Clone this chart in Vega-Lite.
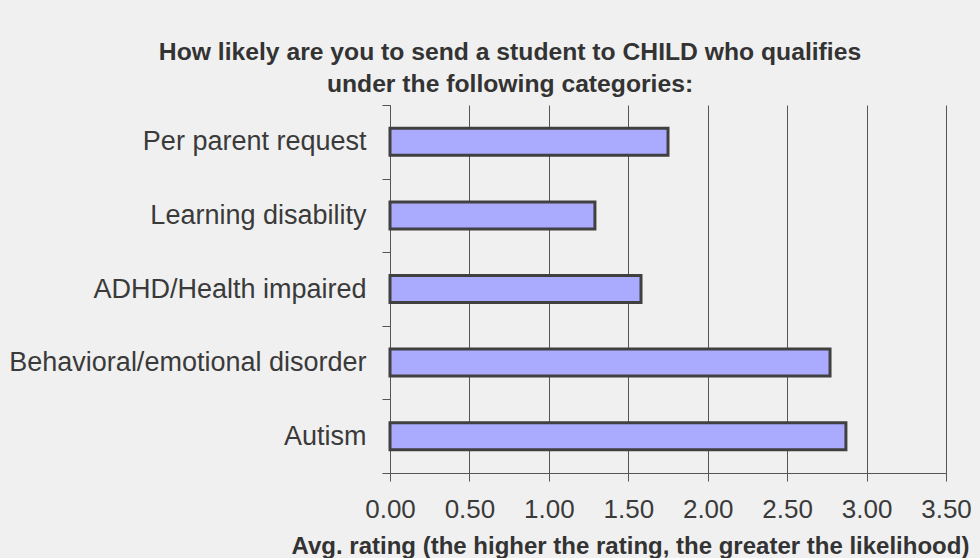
{
  "$schema": "https://vega.github.io/schema/vega-lite/v6.json",
  "width": 556,
  "height": 368,
  "autosize": {"type": "none"},
  "padding": {"left": 390, "top": 105, "right": 34, "bottom": 85},
  "background": "#f0f0f0",
  "title": {
    "text": ["How likely are you to send a student to CHILD who qualifies", "under the following categories:"],
    "anchor": "middle",
    "frame": "group",
    "dx": -158,
    "font": "Liberation Sans",
    "fontSize": 24.7,
    "fontWeight": "bold",
    "color": "#333333",
    "lineHeight": 32,
    "offset": -26,
    "baseline": "alphabetic"
  },
  "data": {
    "values": [
      {"category": "Per parent request", "rating": 1.75},
      {"category": "Learning disability", "rating": 1.29},
      {"category": "ADHD/Health impaired", "rating": 1.58},
      {"category": "Behavioral/emotional disorder", "rating": 2.77},
      {"category": "Autism", "rating": 2.87}
    ]
  },
  "mark": {"type": "bar", "fill": "#aaaaff", "stroke": "#404040", "strokeWidth": 3, "size": 27},
  "encoding": {
    "y": {
      "field": "category",
      "type": "nominal",
      "sort": null,
      "scale": {"paddingInner": 0, "paddingOuter": 0},
      "axis": {
        "title": null,
        "grid": false,
        "domainColor": "#555555",
        "domainWidth": 1,
        "tickColor": "#555555",
        "tickSize": 8,
        "tickBand": "extent",
        "labelFont": "Liberation Sans",
        "labelFontSize": 27,
        "labelColor": "#3a3a3a",
        "labelPadding": 16,
        "labelLimit": 500
      }
    },
    "x": {
      "field": "rating",
      "type": "quantitative",
      "scale": {"domain": [0, 3.5], "nice": false, "zero": true},
      "axis": {
        "values": [0, 0.5, 1, 1.5, 2, 2.5, 3, 3.5],
        "format": ".2f",
        "grid": true,
        "gridColor": "#555555",
        "gridWidth": 1,
        "domainColor": "#555555",
        "tickColor": "#555555",
        "tickSize": 8,
        "labelFont": "Liberation Sans",
        "labelFontSize": 26,
        "labelColor": "#3a3a3a",
        "labelBaseline": "alphabetic",
        "labelPadding": 36,
        "labelFlush": false,
        "labelOverlap": false,
        "title": "Avg. rating (the higher the rating, the greater the likelihood)",
        "titleFont": "Liberation Sans",
        "titleFontSize": 24,
        "titleFontWeight": "bold",
        "titleColor": "#333333",
        "titleX": 240,
        "titleY": 80,
        "titleAlign": "center",
        "titleBaseline": "alphabetic"
      }
    }
  },
  "config": {"view": {"stroke": null}}
}
